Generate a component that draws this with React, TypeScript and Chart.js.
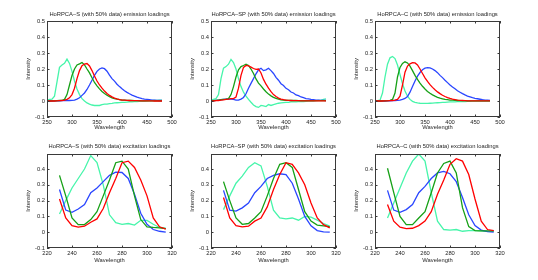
import React, { useEffect, useRef } from "react";
import { Chart, registerables } from "chart.js";

Chart.register(...registerables);

// ---------- data ----------
const EM_WL = [
  250, 255, 260, 265, 270, 275, 280, 285, 290, 295,
  300, 305, 310, 315, 320, 325, 330, 335, 340, 345,
  350, 355, 360, 365, 370, 375, 380, 385, 390, 395,
  400, 405, 410, 415, 420, 425, 430, 435, 440, 445,
  450, 455, 460, 465, 470, 475, 480,
];
const EX_WL = [230, 235, 240, 245, 250, 255, 260, 265, 270, 275, 280, 285, 290, 295, 300, 305, 310, 315];

const EM_X_TICKS = [250, 300, 350, 400, 450, 500];
const EM_Y_TICKS = [-0.1, 0, 0.1, 0.2, 0.3, 0.4, 0.5];
const EX_X_TICKS = [220, 240, 260, 280, 300, 320];
const EX_Y_TICKS = [-0.1, 0, 0.1, 0.2, 0.3, 0.4];

// HoRPCA-S emission
const S_EM_BLUE = [
  0, 0, 0, 0.001, 0.001, 0.001, 0.002, 0.002, 0.003, 0.003,
  0.004, 0.006, 0.012, 0.02, 0.035, 0.05, 0.072, 0.1, 0.13, 0.16,
  0.185, 0.2, 0.207, 0.202, 0.186, 0.162, 0.14, 0.124, 0.105, 0.09,
  0.076, 0.064, 0.054, 0.045, 0.037, 0.031, 0.024, 0.019, 0.015, 0.012,
  0.01, 0.008, 0.006, 0.005, 0.004, 0.003, 0.003,
];
const S_EM_GREEN = [
  0, 0, 0.001, 0.001, 0.002, 0.003, 0.004, 0.01, 0.04, 0.1,
  0.16, 0.2, 0.225, 0.232, 0.241, 0.226, 0.2, 0.176, 0.145, 0.116,
  0.095, 0.076, 0.06, 0.047, 0.036, 0.027, 0.02, 0.015, 0.011, 0.008,
  0.006, 0.005, 0.004, 0.003, 0.003, 0.002, 0.002, 0.002, 0.001, 0.001,
  0.001, 0.001, 0.001, 0.001, 0.001, 0.001, 0.001,
];
const S_EM_RED = [
  0, 0, 0, 0, 0.001, 0.002, 0.003, 0.005, 0.01, 0.02,
  0.04, 0.08, 0.14, 0.19, 0.22, 0.231, 0.234, 0.219, 0.19, 0.156,
  0.125, 0.1, 0.08, 0.062, 0.047, 0.035, 0.026, 0.018, 0.013, 0.009,
  0.006, 0.005, 0.004, 0.003, 0.002, 0.002, 0.002, 0.001, 0.001, 0.001,
  0.001, 0.001, 0.001, 0, 0, 0, 0,
];
const S_EM_CYAN = [
  0.005, 0.01, 0.012, 0.03, 0.12, 0.21, 0.225, 0.235, 0.262, 0.235,
  0.185, 0.125, 0.075, 0.04, 0.015, 0.0, -0.012, -0.02, -0.025, -0.028,
  -0.027, -0.028, -0.022, -0.02, -0.019, -0.016, -0.015, -0.012, -0.011, -0.01,
  -0.009, -0.008, -0.007, -0.006, -0.005, -0.004, -0.003, -0.002, -0.001, 0,
  0.001, 0.002, 0.003, 0.004, 0.004, 0.005, 0.006,
];

// HoRPCA-SP emission
const SP_EM_BLUE = [
  0, 0.002, 0.004, 0.006, 0.008, 0.01, 0.012, 0.012, 0.012, 0.01,
  0.005, 0.005, 0.012, 0.022, 0.045, 0.08, 0.11, 0.14, 0.17, 0.195,
  0.205, 0.19, 0.195, 0.205, 0.19, 0.172, 0.148, 0.13, 0.108, 0.097,
  0.079, 0.07, 0.056, 0.05, 0.038, 0.033, 0.025, 0.021, 0.015, 0.013,
  0.01, 0.008, 0.006, 0.005, 0.004, 0.004, 0.003,
];
const SP_EM_GREEN = [
  0, 0.002, 0.004, 0.006, 0.008, 0.01, 0.012, 0.015, 0.04, 0.09,
  0.15, 0.195, 0.215, 0.222, 0.23, 0.222, 0.2, 0.172, 0.138, 0.112,
  0.095, 0.075, 0.058, 0.043, 0.032, 0.023, 0.016, 0.011, 0.007, 0.005,
  0.004, 0.004, 0.003, 0.003, 0.003, 0.002, 0.002, 0.002, 0.002, 0.002,
  0.002, 0.002, 0.002, 0.002, 0.002, 0.002, 0.002,
];
const SP_EM_RED = [
  0, 0, 0.002, 0.003, 0.005, 0.007, 0.01, 0.012, 0.015, 0.015,
  0.025, 0.08, 0.16, 0.21, 0.222, 0.22, 0.212, 0.203, 0.198, 0.2,
  0.175, 0.135, 0.105, 0.08, 0.058, 0.04, 0.028, 0.018, 0.012, 0.008,
  0.006, 0.004, 0.003, 0.002, 0.002, 0.002, 0.001, 0.001, 0.001, 0.001,
  0.001, 0.001, 0.001, 0.001, 0.001, 0.001, 0.001,
];
const SP_EM_CYAN = [
  0.005, 0.01, 0.015, 0.04, 0.14, 0.205, 0.215, 0.23, 0.26, 0.24,
  0.2, 0.14, 0.09, 0.055, 0.03, 0.01, -0.008, -0.025, -0.035, -0.04,
  -0.028, -0.03, -0.035, -0.022, -0.028, -0.022, -0.018, -0.014, -0.012, -0.01,
  -0.009, -0.008, -0.006, -0.005, -0.005, -0.004, -0.003, -0.003, -0.002, -0.001,
  0, 0, 0.002, 0.004, 0.006, 0.01, 0.014,
];

// HoRPCA-C emission
const C_EM_BLUE = [
  0, 0, 0, 0, 0, 0.001, 0.001, 0.002, 0.003, 0.004,
  0.006, 0.01, 0.016, 0.028, 0.055, 0.09, 0.125, 0.155, 0.178, 0.195,
  0.205, 0.208, 0.207, 0.2, 0.19, 0.177, 0.16, 0.146, 0.13, 0.115,
  0.1, 0.087, 0.076, 0.064, 0.055, 0.046, 0.038, 0.031, 0.026, 0.021,
  0.017, 0.014, 0.011, 0.008, 0.006, 0.005, 0.004,
];
const C_EM_GREEN = [
  0, 0, 0, 0.001, 0.001, 0.002, 0.004, 0.01, 0.05, 0.15,
  0.21, 0.235, 0.245, 0.238, 0.218, 0.19, 0.16, 0.135, 0.112, 0.092,
  0.075, 0.06, 0.048, 0.038, 0.03, 0.023, 0.018, 0.014, 0.01, 0.008,
  0.006, 0.005, 0.004, 0.003, 0.002, 0.002, 0.002, 0.001, 0.001, 0.001,
  0.001, 0.001, 0.001, 0.001, 0.001, 0.001, 0.001,
];
const C_EM_RED = [
  0, 0, 0, 0, 0.001, 0.001, 0.002, 0.003, 0.005, 0.01,
  0.03, 0.1, 0.18, 0.218, 0.232, 0.24, 0.238, 0.225, 0.2, 0.172,
  0.145, 0.122, 0.102, 0.085, 0.07, 0.057, 0.046, 0.036, 0.028, 0.021,
  0.016, 0.012, 0.009, 0.006, 0.004, 0.003, 0.002, 0.001, 0.001, 0.001,
  0.001, 0.001, 0.001, 0.001, 0.001, 0.001, 0.001,
];
const C_EM_CYAN = [
  0, 0.002, 0.005, 0.05, 0.15, 0.23, 0.27, 0.278, 0.265, 0.225,
  0.165, 0.108, 0.062, 0.03, 0.01, -0.002, -0.008, -0.012, -0.014, -0.015,
  -0.015, -0.015, -0.014, -0.013, -0.012, -0.011, -0.01, -0.009, -0.008, -0.007,
  -0.006, -0.006, -0.005, -0.004, -0.004, -0.003, -0.003, -0.002, -0.002, -0.001,
  -0.001, 0, 0, 0, 0, 0, 0,
];

// excitation loadings
const S_EX_BLUE = [0.27, 0.14, 0.126, 0.147, 0.175, 0.25, 0.28, 0.32, 0.36, 0.38, 0.378, 0.34, 0.24, 0.12, 0.05, 0.017, 0.006, 0.0];
const S_EX_GREEN = [0.36, 0.23, 0.09, 0.048, 0.048, 0.08, 0.13, 0.23, 0.33, 0.44, 0.45, 0.4, 0.23, 0.08, 0.034, 0.03, 0.027, 0.023];
const S_EX_RED = [0.21, 0.09, 0.042, 0.032, 0.038, 0.063, 0.084, 0.15, 0.25, 0.34, 0.44, 0.45, 0.41, 0.33, 0.23, 0.09, 0.034, 0.02];
const S_EX_CYAN = [0.115, 0.2, 0.28, 0.34, 0.4, 0.485, 0.44, 0.3, 0.11, 0.06, 0.05, 0.055, 0.045, 0.075, 0.075, 0.05, 0.03, 0.025];

const SP_EX_BLUE = [0.265, 0.14, 0.133, 0.154, 0.185, 0.25, 0.29, 0.34, 0.36, 0.37, 0.365, 0.31, 0.21, 0.1, 0.04, 0.01, 0.002, 0.0];
const SP_EX_GREEN = [0.32, 0.2, 0.09, 0.05, 0.055, 0.09, 0.13, 0.23, 0.34, 0.43, 0.44, 0.41, 0.27, 0.13, 0.07, 0.045, 0.04, 0.035];
const SP_EX_RED = [0.22, 0.09, 0.042, 0.034, 0.038, 0.07, 0.09, 0.16, 0.27, 0.365, 0.44, 0.43, 0.375, 0.3, 0.185, 0.09, 0.048, 0.027];
const SP_EX_CYAN = [0.143, 0.23, 0.31, 0.355, 0.41, 0.44, 0.42, 0.29, 0.14, 0.09, 0.085, 0.09, 0.076, 0.1, 0.095, 0.076, 0.055, 0.038];

const C_EX_BLUE = [0.265, 0.14, 0.126, 0.143, 0.175, 0.25, 0.29, 0.34, 0.375, 0.385, 0.37, 0.32, 0.22, 0.11, 0.042, 0.013, 0.004, 0.0];
const C_EX_GREEN = [0.405, 0.25, 0.1, 0.048, 0.048, 0.09, 0.13, 0.25, 0.375, 0.435, 0.45, 0.375, 0.155, 0.035, 0.01, 0.008, 0.008, 0.008];
const C_EX_RED = [0.175, 0.07, 0.032, 0.023, 0.025, 0.042, 0.07, 0.13, 0.24, 0.33, 0.43, 0.465, 0.45, 0.365, 0.21, 0.07, 0.017, 0.01];
const C_EX_CYAN = [0.09, 0.185, 0.28, 0.375, 0.45, 0.495, 0.45, 0.25, 0.07, 0.017, 0.013, 0.017, 0.006, 0.01, 0.01, 0.008, 0.005, 0.005];

const TITLES = [
  "HoRPCA\u2013S (with 50% data) emission loadings",
  "HoRPCA\u2013SP (with 50% data) emission loadings",
  "HoRPCA\u2013C (with 50% data) emission loadings",
  "HoRPCA\u2013S (with 50% data) excitation loadings",
  "HoRPCA\u2013SP (with 50% data) excitation loadings",
  "HoRPCA\u2013C (with 50% data) excitation loadings",
];

// ---------- style ----------
const RED = "#ff0000";
const GREEN = "#16a016";
const BLUE = "#2a46ff";
const CYAN = "#46f5aa";
const TEXT = "#262626";
const FONT_FAMILY = "'Liberation Sans', Arial, Helvetica, sans-serif";
const FS = 5.8;

const LEFT_SPACE = 40;
const TOP_SPACE = 20;
const BOTTOM_SPACE = 20;
const RIGHT_SPACE = 8;

const boxPlugin = {
  id: "matlabBox",
  afterDatasetsDraw(chart: any) {
    const { ctx, chartArea } = chart;
    const { left, right, top, bottom } = chartArea;
    const xs = chart.scales.x;
    const ys = chart.scales.y;
    ctx.save();
    ctx.strokeStyle = "#3a3a3a";
    ctx.lineWidth = 1;
    ctx.strokeRect(left + 0.5, top + 0.5, right - left - 1, bottom - top - 1);
    const tl = 2.5;
    ctx.beginPath();
    for (const t of xs.ticks) {
      const px = Math.round(xs.getPixelForValue(t.value)) + 0.5;
      ctx.moveTo(px, bottom);
      ctx.lineTo(px, bottom - tl);
      ctx.moveTo(px, top);
      ctx.lineTo(px, top + tl);
    }
    for (const t of ys.ticks) {
      const py = Math.round(ys.getPixelForValue(t.value)) + 0.5;
      ctx.moveTo(left, py);
      ctx.lineTo(left + tl, py);
      ctx.moveTo(right, py);
      ctx.lineTo(right - tl, py);
    }
    ctx.stroke();
    ctx.restore();
  },
};

type Series = { values: number[]; color: string };
type PanelDef = {
  title: string;
  wl: number[];
  series: Series[];
  xMin: number;
  xMax: number;
  yMin: number;
  yMax: number;
  xTicks: number[];
  yTicks: number[];
  boxLeft: number;
  boxTop: number;
  boxW: number;
  boxH: number;
  titleTop: number;
  xTitleBottom: number;
};

function Panel({ p }: { p: PanelDef }) {
  const ref = useRef<HTMLCanvasElement>(null);
  const w = p.boxW + LEFT_SPACE + RIGHT_SPACE;
  const h = p.boxH + TOP_SPACE + BOTTOM_SPACE;
  useEffect(() => {
    const font = { family: FONT_FAMILY, size: FS };
    const chart = new Chart(ref.current as HTMLCanvasElement, {
      type: "line",
      data: {
        datasets: p.series.map((s) => ({
          data: p.wl.map((x, i) => ({ x, y: s.values[i] })),
          borderColor: s.color,
          backgroundColor: s.color,
          borderWidth: 1.3,
          pointRadius: 0,
          fill: false,
          tension: 0,
        })),
      },
      options: {
        animation: false,
        responsive: false,
        maintainAspectRatio: false,
        events: [],
        layout: { padding: { left: 0, right: RIGHT_SPACE, top: 0, bottom: 0 } },
        plugins: {
          legend: { display: false },
          tooltip: { enabled: false },
          title: {
            display: true,
            text: p.title,
            fullSize: false,
            color: TEXT,
            font: { family: FONT_FAMILY, size: FS, lineHeight: 1, weight: "normal" },
            padding: { top: p.titleTop, bottom: TOP_SPACE - FS - p.titleTop },
          },
        },
        scales: {
          x: {
            type: "linear",
            min: p.xMin,
            max: p.xMax,
            afterFit: (s: any) => {
              s.height = BOTTOM_SPACE;
            },
            afterBuildTicks: (s: any) => {
              s.ticks = p.xTicks.map((v) => ({ value: v }));
            },
            grid: { display: false, drawTicks: false },
            border: { display: false },
            ticks: {
              font,
              color: TEXT,
              padding: 2,
              maxRotation: 0,
              autoSkip: false,
              callback: (v: any) => String(v),
            },
            title: {
              display: true,
              text: "Wavelength",
              color: TEXT,
              font,
              padding: { top: 0, bottom: p.xTitleBottom },
            },
          },
          y: {
            type: "linear",
            min: p.yMin,
            max: p.yMax,
            afterFit: (s: any) => {
              s.width = LEFT_SPACE;
            },
            afterBuildTicks: (s: any) => {
              s.ticks = p.yTicks.map((v) => ({ value: v }));
            },
            grid: { display: false, drawTicks: false },
            border: { display: false },
            ticks: {
              font,
              color: TEXT,
              padding: 2,
              autoSkip: false,
              callback: (v: any) => String(v),
            },
            title: {
              display: true,
              text: "Intensity",
              color: TEXT,
              font,
              padding: { top: 17.8, bottom: 0 },
            },
          },
        },
      } as any,
      plugins: [boxPlugin],
    });
    return () => chart.destroy();
  }, []);
  return (
    <canvas
      ref={ref}
      width={w}
      height={h}
      style={{
        position: "absolute",
        left: p.boxLeft - LEFT_SPACE,
        top: p.boxTop - TOP_SPACE,
        width: w,
        height: h,
      }}
    />
  );
}

const BOX_LEFTS = [47, 211, 375];

const PANELS: PanelDef[] = [
  [S_EM_RED, S_EM_GREEN, S_EM_BLUE, S_EM_CYAN],
  [SP_EM_RED, SP_EM_GREEN, SP_EM_BLUE, SP_EM_CYAN],
  [C_EM_RED, C_EM_GREEN, C_EM_BLUE, C_EM_CYAN],
].map((vals, i) => ({
  title: TITLES[i],
  wl: EM_WL,
  series: [
    { values: vals[0], color: RED },
    { values: vals[1], color: GREEN },
    { values: vals[2], color: BLUE },
    { values: vals[3], color: CYAN },
  ],
  xMin: 250,
  xMax: 500,
  yMin: -0.1,
  yMax: 0.5,
  xTicks: EM_X_TICKS,
  yTicks: EM_Y_TICKS,
  boxLeft: BOX_LEFTS[i],
  boxTop: 21,
  boxW: 125,
  boxH: 96,
  titleTop: 10.8,
  xTitleBottom: 5.8,
})).concat(
  [
    [S_EX_RED, S_EX_GREEN, S_EX_BLUE, S_EX_CYAN],
    [SP_EX_RED, SP_EX_GREEN, SP_EX_BLUE, SP_EX_CYAN],
    [C_EX_RED, C_EX_GREEN, C_EX_BLUE, C_EX_CYAN],
  ].map((vals, i) => ({
    title: TITLES[3 + i],
    wl: EX_WL,
    series: [
      { values: vals[0], color: RED },
      { values: vals[1], color: GREEN },
      { values: vals[2], color: BLUE },
      { values: vals[3], color: CYAN },
    ],
    xMin: 220,
    xMax: 320,
    yMin: -0.1,
    yMax: 0.495,
    xTicks: EX_X_TICKS,
    yTicks: EX_Y_TICKS,
    boxLeft: BOX_LEFTS[i],
    boxTop: 154,
    boxW: 125,
    boxH: 94,
    titleTop: 9.8,
    xTitleBottom: 3.8,
  }))
);

export default function App() {
  return (
    <div
      style={{
        position: "absolute",
        left: 0,
        top: 0,
        width: 538,
        height: 280,
        background: "#ffffff",
        overflow: "hidden",
      }}
    >
      {PANELS.map((p, i) => (
        <Panel key={i} p={p} />
      ))}
    </div>
  );
}
